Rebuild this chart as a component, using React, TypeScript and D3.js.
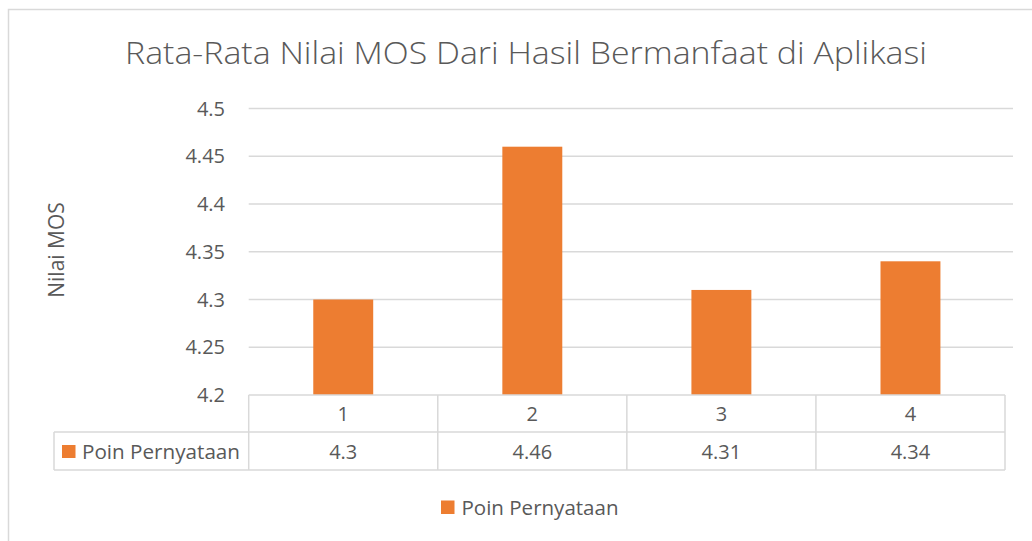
import React, { useEffect, useRef } from 'react';
import * as d3 from 'd3';

// chart data
const categories = ['1', '2', '3', '4'];
const mosValues = [4.3, 4.46, 4.31, 4.34];
const yTicks = [4.2, 4.25, 4.3, 4.35, 4.4, 4.45, 4.5];
const seriesName = 'Poin Pernyataan';
const chartTitle = 'Rata-Rata Nilai MOS Dari Hasil Bermanfaat di Aplikasi';
const yTitle = 'Nilai MOS';

const W = 1032;
const H = 541;
const FONT = '"Open Sans", Calibri, sans-serif';
const TEXT = '#595959';
const LINE = '#D9D9D9';
const BAR = '#ED7D31';

const App = () => {
  const ref = useRef<HTMLDivElement>(null);

  useEffect(() => {
    document.body.style.margin = '0';
    d3.select(ref.current).select('svg').remove();

    const svg = d3.select(ref.current)
      .append('svg')
      .attr('width', W)
      .attr('height', H)
      .style('display', 'block')
      .style('font-family', FONT);

    svg.append('rect')
      .attr('width', W).attr('height', H).attr('fill', '#fff');

    // chart area border (runs off right and bottom)
    svg.append('rect')
      .attr('x', 8.5).attr('y', 9.5)
      .attr('width', W + 20).attr('height', H + 20)
      .attr('fill', 'none').attr('stroke', LINE).attr('stroke-width', 1.5);

    const plotLeft = 248.7;
    const plotRight = 1005;
    const gridRight = 1013;

    const x = d3.scaleBand<string>()
      .domain(categories)
      .range([plotLeft, plotRight])
      .padding(0);

    const y = d3.scaleLinear()
      .domain([4.2, 4.5])
      .range([395, 108.5]);

    // title
    svg.append('text')
      .attr('x', 526).attr('y', 64)
      .attr('text-anchor', 'middle')
      .attr('font-size', 32)
      .attr('font-weight', 300)
      .attr('fill', TEXT)
      .attr('textLength', 802)
      .attr('lengthAdjust', 'spacingAndGlyphs')
      .text(chartTitle);

    // gridlines
    svg.append('g')
      .selectAll('line')
      .data(yTicks.slice(1))
      .enter().append('line')
      .attr('x1', plotLeft).attr('x2', gridRight)
      .attr('y1', d => y(d)).attr('y2', d => y(d))
      .attr('stroke', LINE).attr('stroke-width', 1.5);

    // y tick labels
    svg.append('g')
      .selectAll('text')
      .data(yTicks)
      .enter().append('text')
      .attr('x', 225)
      .attr('y', d => y(d) + 7)
      .attr('text-anchor', 'end')
      .attr('font-size', 20)
      .attr('fill', TEXT)
      .text(d => String(d));

    // y axis title
    svg.append('text')
      .attr('transform', 'translate(64,250) rotate(-90)')
      .attr('text-anchor', 'middle')
      .attr('font-size', 21)
      .attr('fill', TEXT)
      .text(yTitle);

    // bars
    const barW = x.bandwidth() * 0.317;
    svg.append('g')
      .selectAll('rect')
      .data(mosValues)
      .enter().append('rect')
      .attr('x', (d, i) => x(categories[i])! + (x.bandwidth() - barW) / 2)
      .attr('y', d => y(d))
      .attr('width', barW)
      .attr('height', d => y(4.2) - y(d))
      .attr('fill', BAR);

    // data table
    const rowTop = y(4.2);
    const rowMid = 432;
    const rowBot = 470;
    const tableLeft = 54;
    const table = svg.append('g')
      .attr('stroke', LINE).attr('stroke-width', 1.5);

    table.append('line')
      .attr('x1', plotLeft).attr('x2', plotRight)
      .attr('y1', rowTop).attr('y2', rowTop);
    [rowMid, rowBot].forEach(yy => {
      table.append('line')
        .attr('x1', tableLeft).attr('x2', plotRight)
        .attr('y1', yy).attr('y2', yy);
    });
    table.append('line')
      .attr('x1', tableLeft).attr('x2', tableLeft)
      .attr('y1', rowMid).attr('y2', rowBot);
    const colEdges = categories.map(c => x(c)!).concat([plotRight]);
    table.selectAll('line.col')
      .data(colEdges)
      .enter().append('line')
      .attr('class', 'col')
      .attr('x1', d => d).attr('x2', d => d)
      .attr('y1', rowTop).attr('y2', rowBot);

    // category labels
    svg.append('g')
      .selectAll('text')
      .data(categories)
      .enter().append('text')
      .attr('x', d => x(d)! + x.bandwidth() / 2)
      .attr('y', 421)
      .attr('text-anchor', 'middle')
      .attr('font-size', 20)
      .attr('fill', TEXT)
      .text(d => d);

    // values row
    svg.append('g')
      .selectAll('text')
      .data(mosValues)
      .enter().append('text')
      .attr('x', (d, i) => x(categories[i])! + x.bandwidth() / 2)
      .attr('y', 459)
      .attr('text-anchor', 'middle')
      .attr('font-size', 20)
      .attr('fill', TEXT)
      .text(d => String(d));

    // series key in table
    svg.append('rect')
      .attr('x', 62).attr('y', 445).attr('width', 13.5).attr('height', 13)
      .attr('fill', BAR);
    svg.append('text')
      .attr('x', 82).attr('y', 459)
      .attr('font-size', 20)
      .attr('fill', TEXT)
      .attr('textLength', 158)
      .attr('lengthAdjust', 'spacingAndGlyphs')
      .text(seriesName);

    // bottom legend
    svg.append('rect')
      .attr('x', 441).attr('y', 500.5).attr('width', 13.5).attr('height', 13.5)
      .attr('fill', BAR);
    svg.append('text')
      .attr('x', 461.5).attr('y', 514.5)
      .attr('font-size', 20)
      .attr('fill', TEXT)
      .attr('textLength', 157)
      .attr('lengthAdjust', 'spacingAndGlyphs')
      .text(seriesName);
  }, []);

  return <div ref={ref}></div>;
};

export default App;
